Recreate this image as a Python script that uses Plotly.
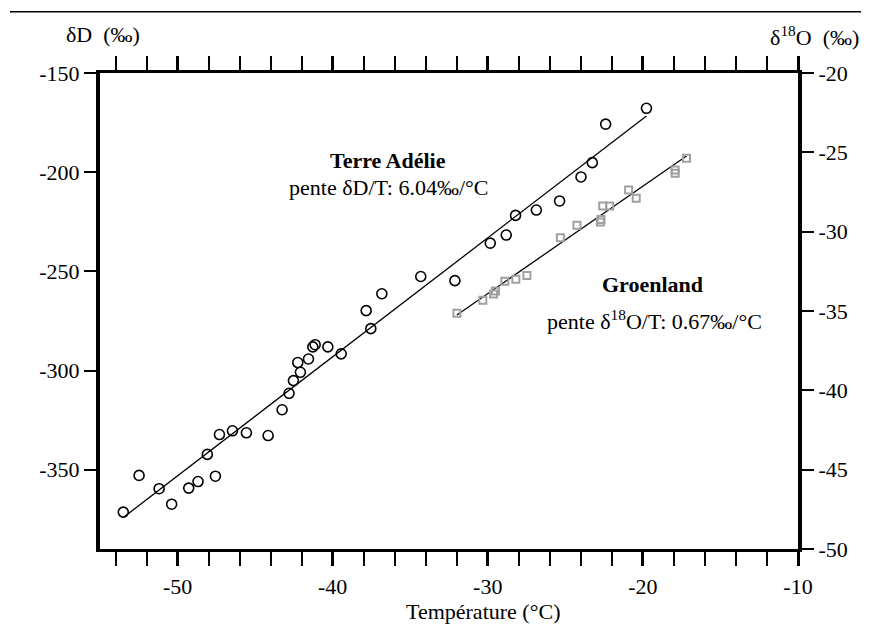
import plotly.graph_objects as go

# Terre Adélie (deltaD, left axis)
ta_temp = [-53.5, -52.48, -51.19, -50.38, -49.28, -48.68, -48.08, -47.56, -47.30, -46.46,
           -45.56, -44.16, -43.26, -42.81, -42.53, -42.08, -42.25, -41.56, -41.28, -41.13,
           -40.31, -39.45, -37.84, -37.54, -36.83, -34.32, -32.12, -29.84, -28.81, -28.21,
           -26.87, -25.37, -23.99, -23.26, -22.40, -19.77]
ta_dD = [-371.4, -352.9, -359.6, -367.4, -359.3, -356.0, -342.3, -353.3, -332.3, -330.4,
         -331.4, -332.8, -319.8, -311.5, -305.1, -300.9, -296.0, -294.2, -288.1, -287.0,
         -288.1, -291.6, -269.8, -278.9, -261.3, -252.6, -254.7, -235.8, -231.7, -221.8,
         -219.1, -214.5, -202.4, -195.2, -175.8, -167.8]
ta_fit_temp = [-53.43, -19.77]
ta_fit_dD = [-373.7, -171.7]

# Groenland (delta18O, right axis)
gr_temp = [-31.99, -30.32, -29.63, -29.50, -28.90, -28.19, -27.48, -25.32, -24.25, -22.74,
           -22.70, -22.59, -22.14, -20.92, -20.43, -17.92, -17.92, -17.19]
gr_d18O = [-35.14, -34.32, -33.93, -33.74, -33.13, -33.00, -32.77, -30.38, -29.60, -29.39,
           -29.23, -28.38, -28.38, -27.37, -27.90, -26.11, -26.32, -25.37]
gr_fit_temp = [-31.99, -17.19]
gr_fit_d18O = [-35.25, -25.23]

x_range = [-55, -10]
y_left_range = [-390, -150]
y_right_range = [-50, -20]

x_tickvals = [-50, -40, -30, -20, -10]
x_ticktext = ["-50", "-40", "-30", "-20", "-10"]
yl_tickvals = [-150, -200, -250, -300, -350]
yl_ticktext = ["-150", "-200", "-250", "-300", "-350"]
yr_tickvals = [-20, -25, -30, -35, -40, -45, -50]
yr_ticktext = ["-20", "-25", "-30", "-35", "-40", "-45", "-50"]

FONT = "Liberation Serif"
FS = 22

fig = go.Figure()
fig.add_trace(go.Scatter(x=ta_fit_temp, y=ta_fit_dD, mode="lines",
                         line=dict(color="black", width=1.3), hoverinfo="skip"))
fig.add_trace(go.Scatter(x=ta_temp, y=ta_dD, mode="markers",
                         marker=dict(symbol="circle-open", size=10, color="black",
                                     line=dict(width=1.6, color="black"))))
fig.add_trace(go.Scatter(x=gr_fit_temp, y=gr_fit_d18O, mode="lines", yaxis="y2",
                         line=dict(color="black", width=1.3), hoverinfo="skip"))
fig.add_trace(go.Scatter(x=gr_temp, y=gr_d18O, mode="markers", yaxis="y2",
                         marker=dict(symbol="square-open", size=7, color="#a0a0a0",
                                     line=dict(width=2, color="#a0a0a0"))))

ann_common = dict(showarrow=False, xanchor="center", yanchor="middle",
                  font=dict(size=FS, family=FONT, color="black"))

fig.update_layout(
    width=861, height=621,
    margin=dict(l=92, r=71, t=65, b=80),
    paper_bgcolor="white", plot_bgcolor="white",
    showlegend=False,
    font=dict(family=FONT, size=FS, color="black"),
    xaxis=dict(range=x_range, tickmode="array", tickvals=x_tickvals, ticktext=x_ticktext,
               ticks="outside", ticklen=14,
               tickwidth=2.5, tickcolor="black", showline=True, linewidth=3,
               linecolor="black", mirror="allticks", showgrid=False, zeroline=False,
               ticklabelstandoff=2,
               minor=dict(dtick=2, tick0=-50, ticks="outside", ticklen=8, tickwidth=2,
                          tickcolor="black", showgrid=False)),
    yaxis=dict(range=y_left_range, tickmode="array", tickvals=yl_tickvals,
               ticktext=yl_ticktext, ticks="outside", ticklen=12,
               tickwidth=2, tickcolor="black", showline=True, linewidth=4,
               linecolor="black", showgrid=False, zeroline=False),
    yaxis2=dict(range=y_right_range, tickmode="array", tickvals=yr_tickvals,
                ticktext=yr_ticktext, ticks="outside", ticklen=12,
                tickwidth=2, tickcolor="black", showline=True, linewidth=4,
                linecolor="black", overlaying="y", side="right", showgrid=False,
                zeroline=False),
    shapes=[dict(type="line", xref="paper", yref="paper", x0=-0.129, x1=1.102,
                 y0=1.1288, y1=1.1288, line=dict(color="black", width=1.5))],
    annotations=[
        dict(text="δD  (‰)", xref="paper", yref="paper", x=0.004, y=1.08, **ann_common),
        dict(text="δ<sup>18</sup>O  (‰)", xref="paper", yref="paper", x=1.024, y=1.078,
             **ann_common),
        dict(text="Température (°C)", xref="paper", yref="paper", x=0.549, y=-0.132,
             **ann_common),
        dict(text="<b>Terre Adélie</b>", x=-36.43, y=-193.9, **ann_common),
        dict(text="pente δD/T: 6.04‰/°C", x=-36.37, y=-207.5, **ann_common),
        dict(text="<b>Groenland</b>", x=-19.35, y=-33.30, yref="y2", **ann_common),
        dict(text="pente δ<sup>18</sup>O/T: 0.67‰/°C", x=-19.28, y=-35.56, yref="y2",
             **ann_common),
    ],
)

fig.write_html("out.html")
